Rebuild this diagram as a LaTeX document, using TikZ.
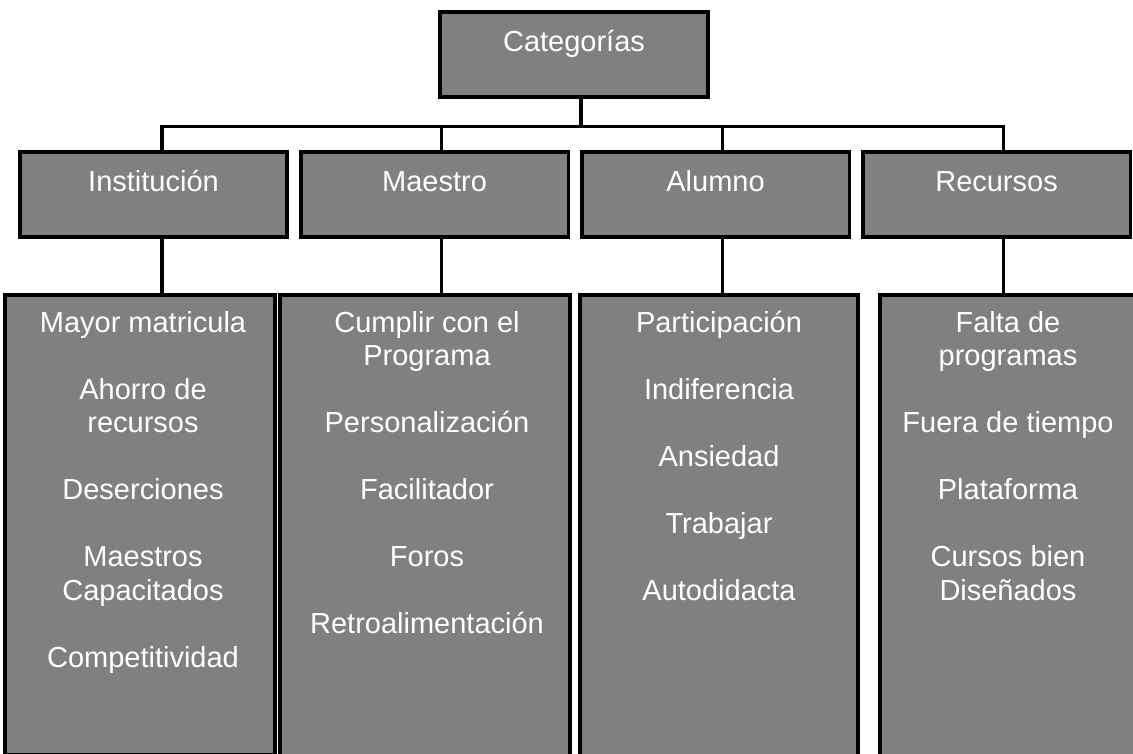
\documentclass[tikz,border=0pt]{standalone}
\usepackage{fontspec}
\setmainfont{Liberation Sans}
\usetikzlibrary{positioning}
\tikzset{
box/.style={draw=black, line width=2pt, fill=black!50, text=white}, % grey boxes with a black frame
headbox/.style={box, minimum width=5.35cm, minimum height=1.7cm, text height=0.42cm, text depth=0.52cm}, % header boxes, text sits high
colbox/.style={box, anchor=north}, % tall boxes of the last row
items/.style={anchor=north, inner sep=0pt, align=center, text=white}, % list of words in a tall box
link/.style={line width=1.8pt}, % connecting lines
every node/.style={font=\fontsize{16.5}{19.06}\selectfont},
}

\begin{document}
\begin{tikzpicture}
    \useasboundingbox (0,0) rectangle (22.66,-15.08);
    % top
    \node[headbox] (cat) at (11.48,-1.09) {Categorías};
    % second row
    \node[headbox] (inst) at (3.07,-3.89) {Institución};
    \node[headbox, right=0.2cm of inst] (maes) {Maestro};
    \node[headbox, right=0.2cm of maes] (alum) {Alumno};
    \node[headbox, right=0.2cm of alum] (recu) {Recursos};
    % last row
    \node[colbox, minimum width=5.4cm, minimum height=9.2cm] (instcol) at (2.8,-5.86) {};
    \node[colbox, minimum width=5.8cm, minimum height=9.4cm] (maescol) at (8.5,-5.86) {};
    \node[colbox, minimum width=5.56cm, minimum height=9.4cm] (alumcol) at (14.38,-5.86) {};
    \node[colbox, minimum width=5.2cm, minimum height=9.4cm] (recucol) at (20.2,-5.86) {};
    \node[items] (instlist) at ([xshift=0.06cm, yshift=-0.36cm]instcol.north)
        {Mayor matricula\\[0.67cm]Ahorro de\\recursos\\[0.67cm]Deserciones\\[0.67cm]Maestros\\Capacitados\\[0.67cm]Competitividad};
    \node[items] (maeslist) at ([xshift=0.04cm, yshift=-0.36cm]maescol.north)
        {Cumplir con el\\Programa\\[0.67cm]Personalización\\[0.67cm]Facilitador\\[0.67cm]Foros\\[0.67cm]Retroalimentación};
    \node[items] (alumlist) at ([yshift=-0.36cm]alumcol.north)
        {Participación\\[0.67cm]Indiferencia\\[0.67cm]Ansiedad\\[0.67cm]Trabajar\\[0.67cm]Autodidacta};
    \node[items] (reculist) at ([xshift=-0.04cm, yshift=-0.36cm]recucol.north)
        {Falta de\\programas\\[0.67cm]Fuera de tiempo\\[0.67cm]Plataforma\\[0.67cm]Cursos bien\\Diseñados};
    % lines
    \draw[link] ([xshift=0.14cm]cat.south) -- ++(0,-0.56) coordinate (bar);
    \draw[link] ([xshift=0.17cm]inst.north) |- (bar) -| ([xshift=0.14cm]recu.north);
    \draw[link] ([xshift=0.14cm]maes.north) -- ([xshift=0.14cm]maes.north |- bar);
    \draw[link] ([xshift=0.14cm]alum.north) -- ([xshift=0.14cm]alum.north |- bar);
    \draw[link] ([xshift=0.17cm]inst.south) -- ([xshift=0.17cm]inst.south |- instcol.north);
    \draw[link] ([xshift=0.14cm]maes.south) -- ([xshift=0.14cm]maes.south |- maescol.north);
    \draw[link] ([xshift=0.14cm]alum.south) -- ([xshift=0.14cm]alum.south |- alumcol.north);
    \draw[link] ([xshift=0.14cm]recu.south) -- ([xshift=0.14cm]recu.south |- recucol.north);
\end{tikzpicture}
\end{document}
